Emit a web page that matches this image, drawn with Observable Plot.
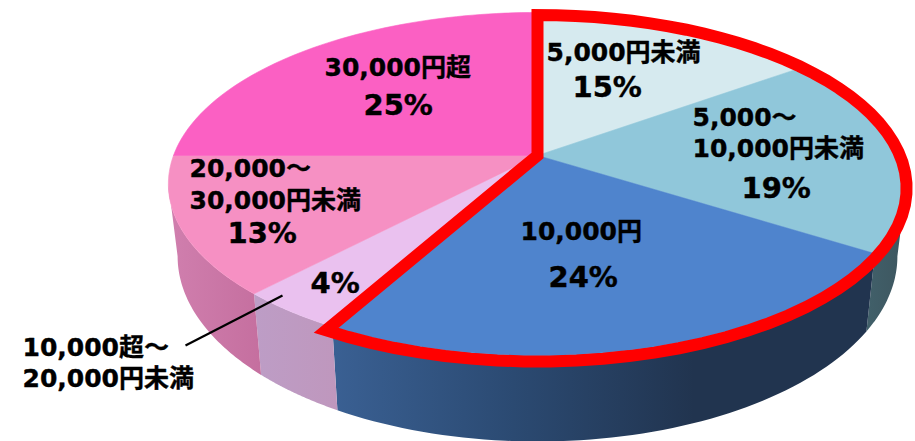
<!DOCTYPE html>
<html><head><meta charset="utf-8">
<style>html,body{margin:0;padding:0;background:#fff}svg{display:block}</style>
<script src="https://cdn.jsdelivr.net/npm/d3@7"></script>
<script src="https://cdn.jsdelivr.net/npm/@observablehq/plot@0.6"></script>
</head><body><script>
// Slice data, clockwise from 12 o'clock
const shares = [15, 19, 24, 4, 13, 25];
const topColors = ["#d6eaef", "#90c7da", "#4f84cd", "#eac1ef", "#f690c3", "#fb60c3"];
const sideStops = [
  ["#3f5a63", "#3f5a63"], ["#41606a", "#3d555e"], ["#3a6093", "#2b4a72", "#21344f", "#21344f"],
  ["#bd9dc6", "#bf97bd"], ["#d07fae", "#c56f9f"], ["#d07fae", "#d07fae"]
];
// Text annotations: [text, left, middle, size]
const labelLines = [
  ["5,000円未満", 546, 52, 25], ["15%", 572, 87, 29],
  ["5,000～", 692, 117, 25], ["10,000円未満", 692, 148, 25], ["19%", 741, 188, 29],
  ["10,000円", 520, 231, 25], ["24%", 548, 277, 29],
  ["4%", 310, 283, 29],
  ["20,000～", 189, 168, 25], ["30,000円未満", 189, 200, 25], ["13%", 227, 233, 29],
  ["30,000円超", 324, 67, 25], ["25%", 363, 105, 29],
  ["10,000超～", 22, 347, 25], ["20,000円未満", 22, 378, 25]
];
const leader = [[282, 295, 185, 345]];

// Camera: a tilted disc seen in perspective, with a second, lower plane for the wall
const cam = {cx: 537, cy: 155, R: 364, Ry: 166.8, k: 0.166, wallX: 0.975, wallY: 1.08, wallDrop: 70,
  outlineDrop: 4, outlineScale: 1.01, outlineOvershoot: 1};
const topAt = (deg) => {
  const a = deg * Math.PI / 180, u = Math.sin(a), v = -Math.cos(a), d = 1 - cam.k * v;
  return [cam.cx + cam.R * u / d, cam.cy + cam.Ry * v / d];
};
const wallAt = (deg) => {
  const [x, y] = topAt(deg);
  return [cam.cx + cam.wallX * (x - cam.cx), cam.cy + cam.wallDrop + cam.wallY * (y - cam.cy)];
};
const arc = (a0, a1, f = topAt) => d3.range(0, 61).map((i) => f(a0 + (a1 - a0) * i / 60));

let run = 0;
const slices = shares.map((s, i) => {
  const a0 = run * 3.6; run += s;
  return {i, a0, a1: run * 3.6};
});
const apex = [cam.cx, cam.cy];
const xy = {x: (d) => d[0], y: (d) => d[1]};

const gradients = () => {
  const defs = d3.create("svg:defs");
  sideStops.forEach((stops, i) => {
    const g = defs.append("linearGradient").attr("id", "side" + i);
    stops.forEach((c, j) => g.append("stop").attr("offset", j / (stops.length - 1)).attr("stop-color", c));
  });
  return defs.node();
};

// The silhouette of the wall runs between the extreme points of both planes
const wallFrom = 90 + Math.asin(cam.k) * 180 / Math.PI, wallTo = 360 - wallFrom;
const walls = slices
  .map(({i, a0, a1}) => ({i, a0: Math.max(a0, wallFrom), a1: Math.min(a1, wallTo)}))
  .filter((w) => w.a1 > w.a0)
  .map(({i, a0, a1}) => Plot.line([...arc(a0, a1), ...arc(a1, a0, wallAt)], {
    ...xy, fill: `url(#side${i})`, stroke: "none", curve: "linear-closed"
  }));

const tops = slices.map(({i, a0, a1}) => Plot.line([apex, ...arc(a0, a1)], {
  ...xy, fill: topColors[i], stroke: topColors[i], strokeWidth: 0.6, curve: "linear-closed"
}));

const highlightEnd = slices[2].a1 + cam.outlineOvershoot;
const outline = [apex, ...arc(0, highlightEnd).map(([x, y]) =>
  [x, cam.cy + cam.outlineDrop + cam.outlineScale * (y - cam.cy)])];

const text = [
  Plot.text(labelLines, {
    x: (d) => d[1], y: (d) => d[2], text: (d) => d[0], fontSize: (d) => d[3],
    textAnchor: "start", lineAnchor: "middle", fontWeight: "bold", fill: "#000",
    stroke: "#000", strokeWidth: 0.4,
    fontFamily: "'DejaVu Sans','Noto Sans CJK JP',sans-serif"
  }),
  Plot.link(leader, {x1: (d) => d[0], y1: (d) => d[1], x2: (d) => d[2], y2: (d) => d[3], stroke: "#000", strokeWidth: 2.2})
];

document.body.append(Plot.plot({
  width: 915, height: 441,
  margin: 0,
  x: {type: "linear", domain: [0, 915], range: [0, 915], axis: null},
  y: {type: "linear", domain: [0, 441], range: [0, 441], axis: null},
  style: {background: "#fff"},
  marks: [
    gradients,
    ...walls,
    ...tops,
    ...text,
    Plot.line(outline, {...xy, stroke: "#ff0000", strokeWidth: 12, strokeLinejoin: "miter", strokeMiterlimit: 10, curve: "linear-closed"})
  ]
}));
</script></body></html>
